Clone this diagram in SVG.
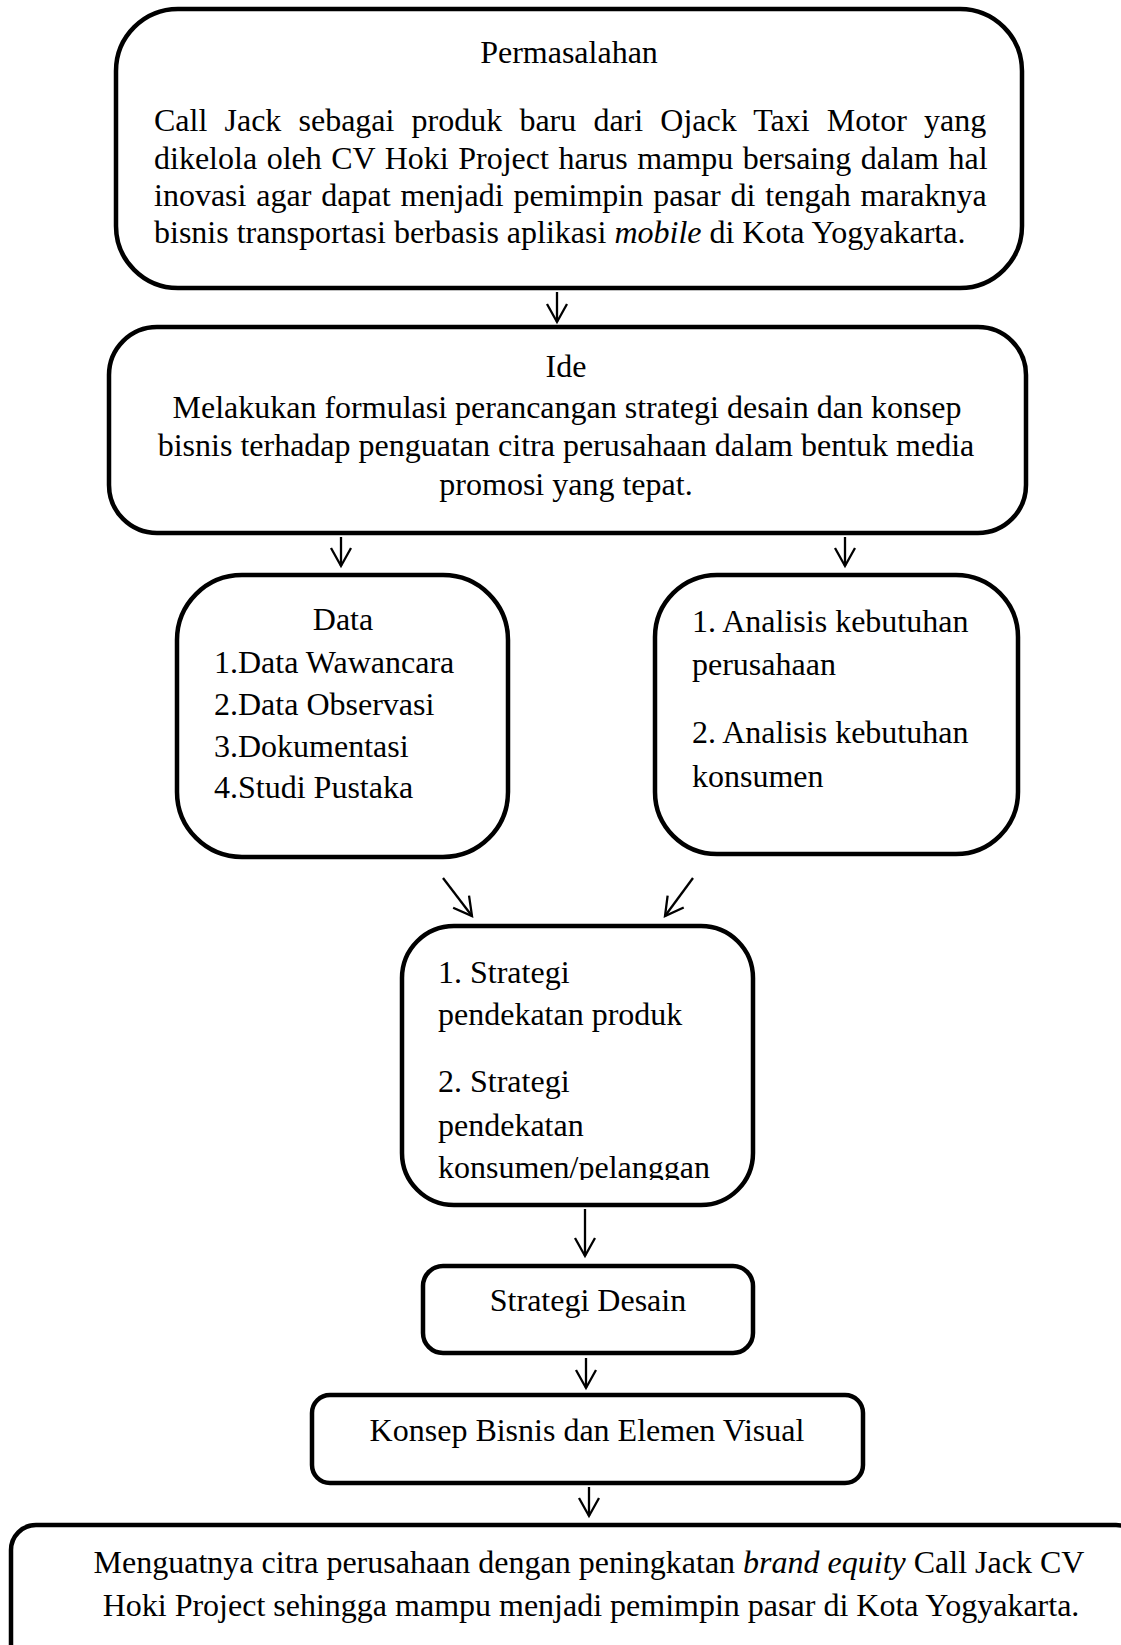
<svg xmlns="http://www.w3.org/2000/svg" width="1121" height="1645" viewBox="0 0 1121 1645">
<style>
.box{fill:#fff;stroke:#000;stroke-width:4.5}
.t{font-family:"Liberation Serif","Times New Roman",serif;font-size:32px;fill:#000}
.c{text-anchor:middle}
.con{stroke:#000;stroke-width:2.3;fill:none}
.i{font-style:italic}
</style>
<defs>
<marker id="ah" markerUnits="userSpaceOnUse" markerWidth="26" markerHeight="26" viewBox="-22 -13 26 26" refX="0" refY="0" orient="auto">
<path d="M-18,-10 L0,0 L-18,10" fill="none" stroke="#000" stroke-width="2.3"/>
</marker>
<clipPath id="clipS"><rect x="402" y="926" width="351" height="254"/></clipPath>
</defs>
<rect width="1121" height="1645" fill="#fff"/>

<g id="connectors">
<line class="con" x1="557" y1="292" x2="557" y2="322" marker-end="url(#ah)"/>
<line class="con" x1="341" y1="537" x2="341" y2="566" marker-end="url(#ah)"/>
<line class="con" x1="845" y1="537" x2="845" y2="566" marker-end="url(#ah)"/>
<line class="con" x1="443" y1="878" x2="472" y2="916" marker-end="url(#ah)"/>
<line class="con" x1="693" y1="878" x2="665" y2="916" marker-end="url(#ah)"/>
<line class="con" x1="585" y1="1209" x2="585" y2="1256" marker-end="url(#ah)"/>
<line class="con" x1="586" y1="1358" x2="586" y2="1388" marker-end="url(#ah)"/>
<line class="con" x1="589" y1="1487" x2="589" y2="1516" marker-end="url(#ah)"/>
</g>

<g id="permasalahan">
<rect class="box" x="116" y="9" width="906" height="279" rx="62"/>
<text class="t c" x="569" y="63">Permasalahan</text>
<text class="t" x="154" y="131" word-spacing="9.15">Call Jack sebagai produk baru dari Ojack Taxi Motor yang</text>
<text class="t" x="154" y="169" word-spacing="1.55">dikelola oleh CV Hoki Project harus mampu bersaing dalam hal</text>
<text class="t" x="154" y="206" word-spacing="1.9">inovasi agar dapat menjadi pemimpin pasar di tengah maraknya</text>
<text class="t" x="154" y="243">bisnis transportasi berbasis aplikasi <tspan class="i">mobile</tspan> di Kota Yogyakarta.</text>
</g>

<g id="ide">
<rect class="box" x="109" y="327" width="917" height="206" rx="48"/>
<text class="t c" x="566" y="377">Ide</text>
<text class="t c" x="567" y="418">Melakukan formulasi perancangan strategi desain dan konsep</text>
<text class="t c" x="566" y="456">bisnis terhadap penguatan citra perusahaan dalam bentuk media</text>
<text class="t c" x="566" y="495">promosi yang tepat.</text>
</g>

<g id="data">
<rect class="box" x="177" y="575" width="331" height="282" rx="65"/>
<text class="t c" x="343" y="630">Data</text>
<text class="t" x="214" y="673">1.Data Wawancara</text>
<text class="t" x="214" y="715">2.Data Observasi</text>
<text class="t" x="214" y="757">3.Dokumentasi</text>
<text class="t" x="214" y="798">4.Studi Pustaka</text>
</g>

<g id="analisis">
<rect class="box" x="655" y="575" width="363" height="279" rx="62"/>
<text class="t" x="692" y="632">1. Analisis kebutuhan</text>
<text class="t" x="692" y="675">perusahaan</text>
<text class="t" x="692" y="743">2. Analisis kebutuhan</text>
<text class="t" x="692" y="787">konsumen</text>
</g>

<g id="strategi">
<rect class="box" x="402" y="926" width="351" height="279" rx="52"/>
<g clip-path="url(#clipS)">
<text class="t" x="438" y="983">1. Strategi</text>
<text class="t" x="438" y="1025">pendekatan produk</text>
<text class="t" x="438" y="1092">2. Strategi</text>
<text class="t" x="438" y="1136">pendekatan</text>
<text class="t" x="438" y="1178">konsumen/pelanggan</text>
</g>
</g>

<g id="strategi-desain">
<rect class="box" x="423" y="1266" width="330" height="87" rx="20"/>
<text class="t c" x="588" y="1311">Strategi Desain</text>
</g>

<g id="konsep">
<rect class="box" x="312" y="1395" width="551" height="88" rx="18"/>
<text class="t c" x="587" y="1441">Konsep Bisnis dan Elemen Visual</text>
</g>

<g id="hasil">
<rect class="box" x="11" y="1525" width="1130" height="160" rx="25"/>
<text class="t c" x="589" y="1573">Menguatnya citra perusahaan dengan peningkatan <tspan class="i">brand equity</tspan> Call Jack CV</text>
<text class="t c" x="591" y="1616">Hoki Project sehingga mampu menjadi pemimpin pasar di Kota Yogyakarta.</text>
</g>
</svg>
